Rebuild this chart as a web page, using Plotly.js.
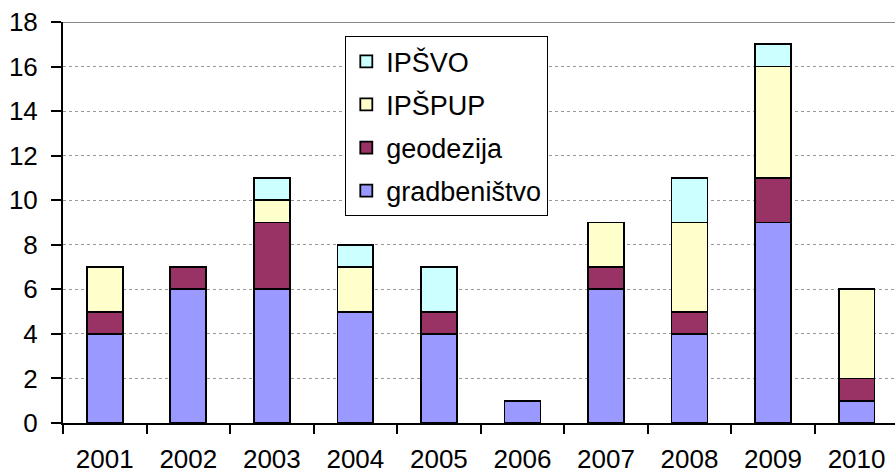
<!DOCTYPE html>
<html>
<head>
<meta charset="utf-8">
<script src="https://cdn.plot.ly/plotly-3.0.1.min.js"></script>
<style>html,body{margin:0;padding:0;background:#fff;}#chart{width:895px;height:475px;}</style>
</head>
<body>
<div id="chart"></div>
<script>
var years = ["2001","2002","2003","2004","2005","2006","2007","2008","2009","2010"];
var gradbenistvo = [4, 6, 6, 5, 4, 1, 6, 4, 9, 1];
var geodezija    = [1, 1, 3, 0, 1, 0, 1, 1, 2, 1];
var ipspup       = [2, 0, 1, 2, 0, 0, 2, 4, 5, 4];
var ipsvo        = [0, 0, 1, 1, 2, 0, 0, 2, 1, 0];
var yTicks = [0, 2, 4, 6, 8, 10, 12, 14, 16, 18];

function tr(name, vals, color, grp, rank) {
  return {
    type: "bar", name: name, x: years, y: vals, legendgroup: grp, legendrank: rank,
    marker: {color: color, line: {color: "#000", width: 1.8}},
    hoverinfo: "x+y+name"
  };
}
var data = [
  tr("gradbeništvo", gradbenistvo, "#9999FF", "a", 4),
  tr("geodezija", geodezija, "#993366", "b", 3),
  tr("IPŠPUP", ipspup, "#FFFFCC", "c", 2),
  tr("IPŠVO", ipsvo, "#CCFFFF", "d", 1)
];
var font = {family: "Liberation Sans, Arial, sans-serif", color: "#000", size: 26};
var layout = {
  width: 895, height: 475,
  margin: {l: 63, r: 0, t: 22, b: 52, pad: 0},
  paper_bgcolor: "#fff", plot_bgcolor: "#fff",
  barmode: "stack", bargap: 0.57,
  font: font,
  showlegend: true,
  legend: {
    x: (345 - 63) / 832, y: 1 - (36 - 22) / 401, xref: "paper", yref: "paper",
    xanchor: "left", yanchor: "top",
    bgcolor: "#fff", bordercolor: "#000", borderwidth: 1.3,
    traceorder: "grouped", tracegroupgap: 5,
    font: {family: "Liberation Sans, Arial, sans-serif", size: 27, color: "#000"}
  },
  xaxis: {
    type: "category", range: [-0.5, 9.46], tickson: "boundaries",
    ticks: "outside", ticklen: 9, tickwidth: 2, tickcolor: "#000",
    showline: true, linecolor: "#000", linewidth: 2,
    showgrid: false, zeroline: false, ticklabelstandoff: 12,
    tickfont: font
  },
  yaxis: {
    range: [0, 18], tickvals: yTicks,
    ticks: "outside", ticklen: 10, tickwidth: 2, tickcolor: "#000",
    showline: true, linecolor: "#000", linewidth: 2,
    showgrid: true, gridcolor: "#999", gridwidth: 1, griddash: "dot",
    zeroline: false, ticklabelstandoff: 8,
    tickfont: font
  },
  shapes: [{type: "line", xref: "paper", yref: "y", x0: 0, x1: 1, y0: 18, y1: 18,
            line: {color: "#888", width: 2}, layer: "below"}]
};
Plotly.newPlot("chart", data, layout, {displayModeBar: false, staticPlot: true});
</script>
</body>
</html>
